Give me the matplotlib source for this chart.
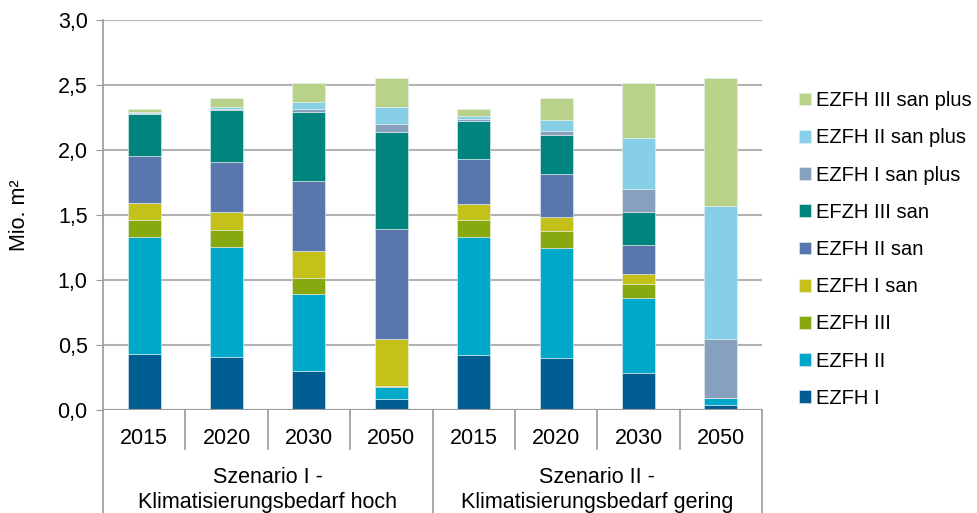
import matplotlib
matplotlib.use("Agg")
import numpy as np
from matplotlib import pyplot as plt

plt.rcParams["font.family"] = ["Liberation Sans", "DejaVu Sans"]

years = ["2015", "2020", "2030", "2050", "2015", "2020", "2030", "2050"]
scenarios = ["Szenario I -\nKlimatisierungsbedarf hoch",
             "Szenario II -\nKlimatisierungsbedarf gering"]

# stacked from bottom to top, one value per year/scenario column (Mio. m²)
ezfh_1 = [0.431, 0.408, 0.303, 0.087, 0.426, 0.403, 0.285, 0.041]
ezfh_2 = [0.902, 0.846, 0.592, 0.092, 0.907, 0.843, 0.579, 0.049]
ezfh_3 = [0.131, 0.131, 0.118, 0.008, 0.131, 0.133, 0.108, 0.005]
ezfh_1_san = [0.128, 0.136, 0.210, 0.359, 0.118, 0.106, 0.077, 0.0]
ezfh_2_san = [0.362, 0.389, 0.536, 0.844, 0.346, 0.330, 0.218, 0.0]
efzh_3_san = [0.325, 0.400, 0.536, 0.751, 0.298, 0.300, 0.259, 0.0]
ezfh_1_plus = [0.008, 0.005, 0.020, 0.059, 0.012, 0.034, 0.171, 0.451]
ezfh_2_plus = [0.008, 0.013, 0.052, 0.131, 0.024, 0.079, 0.393, 1.026]
ezfh_3_plus = [0.020, 0.072, 0.148, 0.223, 0.053, 0.172, 0.425, 0.982]

series = [
    ("EZFH I", ezfh_1, "#005d91"),
    ("EZFH II", ezfh_2, "#00a9c9"),
    ("EZFH III", ezfh_3, "#87a80e"),
    ("EZFH I san", ezfh_1_san, "#c4c21a"),
    ("EZFH II san", ezfh_2_san, "#5a77ad"),
    ("EFZH III san", efzh_3_san, "#00847e"),
    ("EZFH I san plus", ezfh_1_plus, "#86a0bd"),
    ("EZFH II san plus", ezfh_2_plus, "#87cee7"),
    ("EZFH III san plus", ezfh_3_plus, "#b8d28a"),
]

FS = 15.5

fig = plt.figure(figsize=(9.77, 5.13), dpi=100)
ax = fig.add_axes([103 / 977, 103 / 513, 659 / 977, 390 / 513])

x = np.arange(len(years))
bottom = np.zeros(len(years))
handles = []
for name, vals, col in series:
    vals = np.array(vals)
    b = ax.bar(x, vals, 0.4, bottom=bottom, color=col, edgecolor="#e8f0f0",
               linewidth=0.4, label=name, zorder=3)
    handles.append(b)
    bottom += vals

ax.set_xlim(-0.5, len(years) - 0.5)
ax.set_ylim(0, 3.0)
yt = np.arange(0, 3.01, 0.5)
ax.set_yticks(yt)
ax.set_yticklabels([f"{v:.1f}".replace(".", ",") for v in yt], fontsize=FS)
ax.tick_params(axis="y", length=5, color="#9a9a9a", pad=6)
ax.set_xticks([])
ax.grid(axis="y", color="#b3b3b3", linewidth=1.5, zorder=0)
for s in ["top", "right", "bottom"]:
    ax.spines[s].set_visible(False)
ax.spines["left"].set_color("#9a9a9a")
ax.spines["left"].set_linewidth(1.2)
ax.axhline(0, color="#9a9a9a", linewidth=1.5, zorder=4)
ax.set_ylabel("Mio. m²", fontsize=FS, labelpad=20)

# two-level category axis
tr = ax.get_xaxis_transform()
for i, yr in enumerate(years):
    ax.text(i, -0.072, yr, transform=tr, ha="center", va="center", fontsize=FS)
for i in range(len(years) + 1):
    edge = i - 0.5
    low = -0.27 if i % 4 == 0 else -0.1
    ax.plot([edge, edge], [0, low], transform=tr, color="#9a9a9a",
            linewidth=1.2, clip_on=False)
for k, sc in enumerate(scenarios):
    ax.text(1.5 + 4 * k, -0.205, sc, transform=tr, ha="center", va="center",
            fontsize=FS, linespacing=1.25)

fig.legend(handles[::-1], [s[0] for s in series][::-1], loc="upper left",
           bbox_to_anchor=(781 / 977, 1 - 73 / 513), frameon=False,
           fontsize=14.5, handlelength=0.6, handleheight=0.6,
           handletextpad=0.25, labelspacing=0.905)

fig.savefig("out.png", dpi=100)
